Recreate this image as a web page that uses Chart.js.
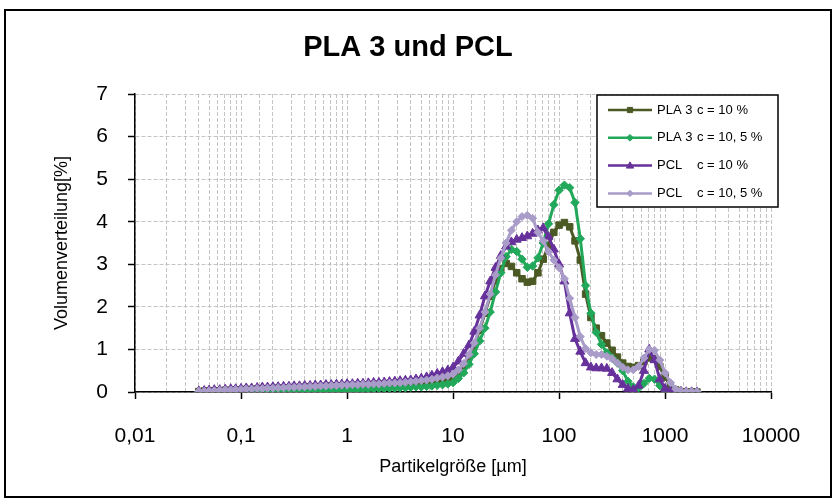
<!DOCTYPE html>
<html><head><meta charset="utf-8">
<script src="https://cdn.jsdelivr.net/npm/chart.js@4.4.1/dist/chart.umd.min.js"></script>
<style>html,body{margin:0;padding:0;background:#fff;} canvas{display:block;}</style>
</head><body>
<canvas id="c" width="837" height="501"></canvas>
<script>
const chartTitle = 'PLA 3 und PCL';
const xAxisTitle = 'Partikelgröße [µm]';
const yAxisTitle = 'Volumenverteilung[%]';
const xTickValues = [0.01, 0.1, 1, 10, 100, 1000, 10000];
const xTickLabels = ['0,01', '0,1', '1', '10', '100', '1000', '10000'];
const yTickLabels = ['0', '1', '2', '3', '4', '5', '6', '7'];

const seriesNames = ['PLA 3', 'PLA 3', 'PCL', 'PCL'];
const seriesConditions = ['c = 10 %', 'c = 10, 5 %', 'c = 10 %', 'c = 10, 5 %'];

const particleSizes = [0.040,0.045,0.050,0.056,0.063,0.071,0.080,0.089,0.100,0.112,0.126,0.142,0.159,0.178,0.200,0.224,0.252,0.283,0.317,0.356,0.399,0.448,0.502,0.564,0.632,0.710,0.796,0.893,1.002,1.125,1.262,1.416,1.589,1.783,2.000,2.244,2.518,2.825,3.170,3.557,3.991,4.477,5.024,5.637,6.325,7.096,7.962,8.934,10.024,11.247,12.619,14.159,15.887,17.825,20.000,22.440,25.179,28.251,31.698,35.566,39.905,44.774,50.238,56.368,63.246,70.963,79.621,89.337,100.237,112.468,126.191,141.589,158.866,178.250,200.000,224.404,251.785,282.508,316.979,355.656,399.052,447.744,502.377,563.677,632.456,709.627,796.214,893.367,1002.374,1124.683,1261.915,1415.892,1588.656,1782.502,2000.000];

const pla3c10 = [0.01,0.02,0.02,0.03,0.03,0.04,0.04,0.05,0.05,0.06, 0.06,0.07,0.07,0.08,0.08,0.09,0.09,0.10,0.10,0.11, 0.11,0.12,0.12,0.13,0.13,0.14,0.14,0.15,0.15,0.16, 0.16,0.17,0.17,0.18,0.18,0.19,0.20,0.20,0.21,0.22, 0.23,0.24,0.25,0.26,0.28,0.30,0.32,0.34,
 0.37,0.47,0.62,0.84,1.10,1.45,1.85,2.25,2.62,2.90, 3.02,2.95,2.80,2.66,2.58,2.60,2.80,3.12,3.45,3.75, 3.92,3.98,3.88,3.55,3.10,2.30,1.75,1.50,1.32,1.15, 0.98,0.82,0.68,0.60,0.58,0.62,0.72,0.80,0.78,0.60, 0.35,0.15,0.05,0.01,0,0,0];

const pla3c105 = [0.00,0.00,0.00,0.01,0.01,0.01,0.01,0.01,0.01,0.02, 0.02,0.02,0.02,0.02,0.03,0.03,0.03,0.03,0.03,0.04, 0.04,0.04,0.04,0.04,0.05,0.05,0.05,0.05,0.05,0.06, 0.06,0.06,0.07,0.07,0.08,0.08,0.09,0.09,0.10,0.10, 0.11,0.12,0.12,0.13,0.14,0.16,0.17,0.19,
 0.22,0.32,0.45,0.65,0.90,1.20,1.50,1.88,2.35,2.80, 3.18,3.35,3.30,3.12,2.93,2.96,3.15,3.50,3.95,4.40, 4.74,4.86,4.80,4.45,3.60,2.50,1.85,1.40,1.12,0.92, 0.80,0.68,0.50,0.25,0.12,0.10,0.20,0.32,0.30,0.15, 0.05,0.01,0,0,0,0,0];

const pclc10 = [0.02,0.03,0.04,0.05,0.05,0.06,0.07,0.07,0.08,0.09, 0.09,0.10,0.11,0.11,0.12,0.12,0.13,0.13,0.14,0.14, 0.15,0.15,0.16,0.16,0.17,0.17,0.18,0.18,0.19,0.19, 0.20,0.20,0.21,0.22,0.22,0.23,0.24,0.25,0.26,0.27, 0.28,0.30,0.32,0.35,0.39,0.43,0.47,0.51,
 0.58,0.72,0.90,1.10,1.42,1.80,2.25,2.60,2.92,3.20, 3.42,3.52,3.58,3.62,3.66,3.72,3.80,3.85,3.65,3.35, 3.00,2.60,1.85,1.25,0.95,0.68,0.58,0.56,0.56,0.55, 0.45,0.30,0.17,0.08,0.05,0.15,0.50,1.00,0.75,0.30, 0.08,0.02,0.01,0.01,0,0,0];

const pclc105 = [0.02,0.02,0.03,0.03,0.04,0.05,0.05,0.06,0.06,0.07, 0.07,0.08,0.08,0.09,0.09,0.10,0.10,0.11,0.11,0.12, 0.12,0.13,0.13,0.14,0.14,0.15,0.15,0.16,0.16,0.17, 0.17,0.18,0.18,0.19,0.19,0.20,0.21,0.21,0.22,0.23, 0.24,0.25,0.27,0.28,0.30,0.33,0.35,0.38,
 0.42,0.52,0.67,0.88,1.15,1.50,1.88,2.30,2.75,3.15, 3.50,3.80,4.00,4.12,4.15,4.08,3.75,3.55,3.30,3.10, 2.92,2.66,2.20,1.75,1.30,1.02,0.92,0.88,0.88,0.84, 0.78,0.68,0.58,0.52,0.52,0.60,0.80,1.00,0.98,0.75, 0.45,0.22,0.07,0.02,0.01,0.01,0.01];

const seriesValues = [pla3c10, pla3c105, pclc10, pclc105];
const seriesColors = ['#4B5A24', '#22A85A', '#67319B', '#A99CC9'];
const seriesMarkers = ['rect', 'rectRot', 'triangle', 'rectRot'];
const seriesRadius = [4.6, 4.2, 5.2, 4.0];
const seriesOrder = [4, 3, 2, 1];

const FONT = '"Liberation Sans", Arial, sans-serif';

function isPow10(v) {
  if (!(v > 0)) return false;
  const l = Math.log10(v);
  return Math.abs(l - Math.round(l)) < 1e-6;
}

const datasets = seriesValues.map((vals, k) => ({
  label: seriesNames[k] + ' ' + seriesConditions[k],
  data: particleSizes.map((x, i) => ({x: x, y: vals[i]})),
  showLine: true,
  borderColor: seriesColors[k],
  backgroundColor: seriesColors[k],
  pointBackgroundColor: seriesColors[k],
  pointBorderColor: seriesColors[k],
  borderWidth: 3,
  pointStyle: seriesMarkers[k],
  pointRadius: seriesRadius[k],
  pointBorderWidth: 1,
  tension: 0,
  order: seriesOrder[k]
}));

function drawMarker(ctx, style, r, x, y, color) {
  ctx.save();
  ctx.fillStyle = color; ctx.strokeStyle = color; ctx.lineWidth = 1;
  ctx.beginPath();
  if (style === 'rect') {
    const s = r * Math.SQRT1_2;
    ctx.rect(x - s, y - s, 2 * s, 2 * s);
  } else if (style === 'rectRot') {
    ctx.moveTo(x, y - r); ctx.lineTo(x + r, y); ctx.lineTo(x, y + r); ctx.lineTo(x - r, y); ctx.closePath();
  } else {
    const h = r * 1.5;
    ctx.moveTo(x, y - h * 0.6); ctx.lineTo(x + r * 0.87, y + h * 0.4); ctx.lineTo(x - r * 0.87, y + h * 0.4); ctx.closePath();
  }
  ctx.fill(); ctx.stroke();
  ctx.restore();
}

const decorPlugin = {
  id: 'decor',
  beforeDraw(chart) {
    const ctx = chart.ctx;
    ctx.save();
    ctx.fillStyle = '#fff';
    ctx.fillRect(0, 0, chart.width, chart.height);
    ctx.restore();
  },
  afterDraw(chart) {
    const ctx = chart.ctx;
    ctx.save();
    ctx.strokeStyle = '#000'; ctx.lineWidth = 2;
    ctx.strokeRect(5, 10, 826, 487);
    ctx.fillStyle = '#000';
    ctx.font = 'bold 29px ' + FONT;
    ctx.textAlign = 'center'; ctx.textBaseline = 'middle';
    ctx.fillText(chartTitle, 408, 48);
    const bx = 597, by = 95, bw = 181, bh = 112;
    ctx.fillStyle = '#fff'; ctx.fillRect(bx, by, bw, bh);
    ctx.strokeStyle = '#000'; ctx.lineWidth = 1.5; ctx.strokeRect(bx, by, bw, bh);
    ctx.font = '13px ' + FONT;
    ctx.textAlign = 'left'; ctx.textBaseline = 'middle';
    chart.data.datasets.forEach((ds, k) => {
      const y = by + 15 + k * 27.8;
      ctx.strokeStyle = ds.borderColor; ctx.lineWidth = 2.5;
      ctx.beginPath(); ctx.moveTo(608, y); ctx.lineTo(652, y); ctx.stroke();
      drawMarker(ctx, ds.pointStyle, ds.pointRadius * 0.8, 630, y, ds.borderColor);
      ctx.fillStyle = '#000';
      ctx.fillText(seriesNames[k], 657, y);
      ctx.fillText(seriesConditions[k], 697, y);
    });
    ctx.restore();
  }
};

new Chart(document.getElementById('c'), {
  type: 'scatter',
  data: { datasets: datasets },
  options: {
    responsive: false,
    animation: false,
    devicePixelRatio: 1,
    layout: { padding: { top: 94, right: 66, bottom: 0, left: 0 } },
    plugins: { legend: { display: false }, title: { display: false }, tooltip: { enabled: false } },
    scales: {
      x: {
        type: 'logarithmic',
        position: 'bottom',
        min: 0.01, max: 10000,
        afterFit(s) { s.height = 109; },
        grid: {
          color: '#C4C4C4', lineWidth: 1,
          drawTicks: true, tickLength: 7, tickWidth: 1.5,
          tickColor: (c) => isPow10(c.tick && c.tick.value) ? '#000' : 'rgba(0,0,0,0)'
        },
        border: { display: true, color: '#000', width: 1.5, dash: [4, 2] },
        ticks: {
          autoSkip: false, maxRotation: 0, minRotation: 0, padding: 25,
          color: '#000', font: { family: FONT, size: 21 },
          callback: (v) => {
            const k = xTickValues.findIndex(t => Math.abs(Math.log10(v) - Math.log10(t)) < 1e-6);
            return k >= 0 ? xTickLabels[k] : '';
          }
        },
        title: { display: true, text: xAxisTitle, color: '#000', font: { family: FONT, size: 18 }, padding: { top: 0, bottom: 23 } }
      },
      y: {
        min: 0, max: 7,
        afterFit(s) { s.width = 135; },
        grid: { color: '#C4C4C4', lineWidth: 1, drawTicks: true, tickLength: 7, tickWidth: 1.5, tickColor: '#000' },
        border: { display: true, color: '#000', width: 1.5, dash: [4, 2] },
        ticks: {
          stepSize: 1, padding: 20, color: '#000', font: { family: FONT, size: 21 },
          callback: (v, i) => yTickLabels[i]
        },
        title: { display: true, text: yAxisTitle, color: '#000', font: { family: FONT, size: 18 }, padding: { top: 51, bottom: 0 } }
      }
    }
  },
  plugins: [decorPlugin]
});
</script>
</body></html>
